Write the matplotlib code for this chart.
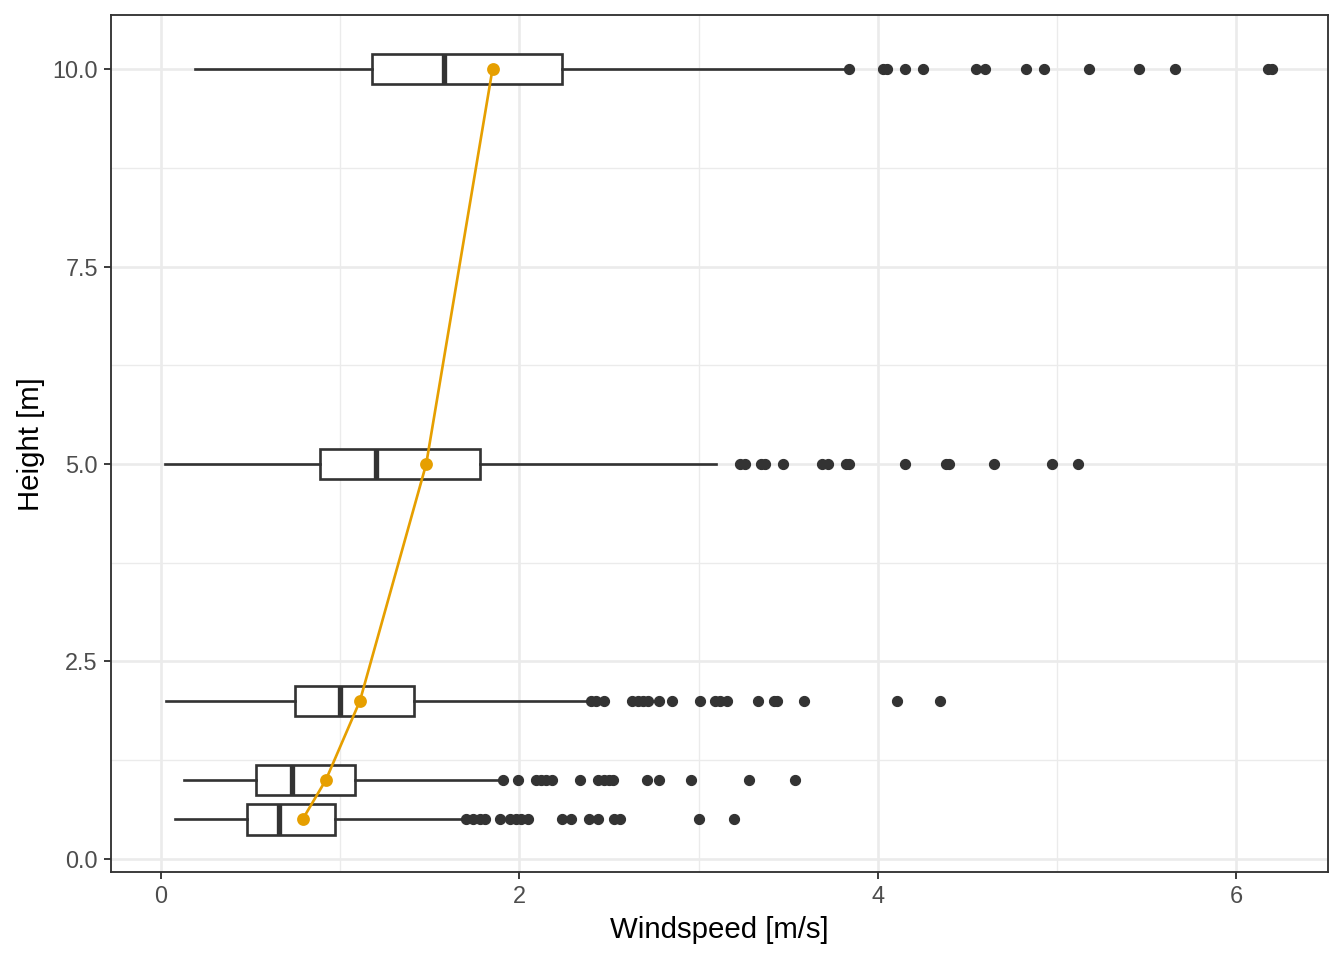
import numpy as np
import matplotlib.pyplot as plt
from matplotlib.ticker import FixedLocator

plt.rcParams['font.family'] = ['Liberation Sans', 'DejaVu Sans']

heights = [0.5, 1, 2, 5, 10]
whislo = [0.08, 0.13, 0.03, 0.02, 0.19]
q1 = [0.48, 0.53, 0.75, 0.89, 1.18]
med = [0.66, 0.73, 1.00, 1.20, 1.58]
q3 = [0.97, 1.08, 1.41, 1.78, 2.24]
whishi = [1.68, 1.88, 2.38, 3.10, 3.83]
means = [0.79, 0.92, 1.11, 1.48, 1.85]

out_05 = [1.70, 1.74, 1.78, 1.81, 1.89, 1.95, 1.98, 2.01, 2.05, 2.24, 2.29,
          2.39, 2.44, 2.53, 2.56, 3.00, 3.20]
out_1 = [1.91, 1.99, 2.09, 2.12, 2.15, 2.18, 2.34, 2.44, 2.47, 2.50, 2.52,
         2.71, 2.78, 2.96, 3.28, 3.54]
out_2 = [2.40, 2.43, 2.47, 2.63, 2.66, 2.69, 2.72, 2.78, 2.85, 3.01, 3.09,
         3.12, 3.16, 3.33, 3.42, 3.44, 3.59, 4.11, 4.35]
out_5 = [3.23, 3.26, 3.35, 3.37, 3.47, 3.69, 3.72, 3.82, 3.84, 4.15, 4.38,
         4.40, 4.65, 4.97, 5.12]
out_10 = [3.84, 4.03, 4.05, 4.15, 4.25, 4.55, 4.60, 4.83, 4.93, 5.18, 5.46,
          5.66, 6.18, 6.20]
outliers = [out_05, out_1, out_2, out_5, out_10]

x_ticks = [0, 2, 4, 6]
x_labels = ['0', '2', '4', '6']
y_ticks = [0, 2.5, 5, 7.5, 10]
y_labels = ['0.0', '2.5', '5.0', '7.5', '10.0']

stats = []
for i in range(len(heights)):
    stats.append(dict(whislo=whislo[i], q1=q1[i], med=med[i], q3=q3[i],
                      whishi=whishi[i], fliers=outliers[i]))

dark = '#333333'
fig = plt.figure(figsize=(7, 5), dpi=192)
ax = fig.add_axes([0.0826, 0.0917, 0.9054, 0.8923])

ax.bxp(stats, positions=heights, widths=0.39, orientation='horizontal',
       showcaps=False, patch_artist=True, manage_ticks=False,
       boxprops=dict(facecolor='white', edgecolor=dark, linewidth=1.0),
       whiskerprops=dict(color=dark, linewidth=1.0),
       medianprops=dict(color=dark, linewidth=2.0),
       flierprops=dict(marker='o', markerfacecolor=dark, markeredgecolor=dark,
                       markersize=3.8, markeredgewidth=0.4),
       zorder=2)

ax.plot(means, heights, color='#E69F00', linewidth=1.0, marker='o',
        markersize=3.8, zorder=3)

ax.set_xlim(-0.279, 6.512)
ax.set_ylim(-0.165, 10.68)
ax.xaxis.set_major_locator(FixedLocator(x_ticks))
ax.xaxis.set_minor_locator(FixedLocator([1, 3, 5]))
ax.yaxis.set_major_locator(FixedLocator(y_ticks))
ax.yaxis.set_minor_locator(FixedLocator([1.25, 3.75, 6.25, 8.75]))
ax.set_xticklabels(x_labels)
ax.set_yticklabels(y_labels)

ax.set_axisbelow(True)
ax.grid(which='major', color='#EBEBEB', linewidth=1.0)
ax.grid(which='minor', color='#EBEBEB', linewidth=0.5)
ax.tick_params(which='major', length=2.75, width=0.7, color=dark,
               labelsize=8.8, labelcolor='#4D4D4D', pad=2.2)
ax.tick_params(which='minor', length=0)
for s in ax.spines.values():
    s.set_color(dark)
    s.set_linewidth(0.7)

ax.set_xlabel('Windspeed [m/s]', fontsize=11, labelpad=2.75)
ax.set_ylabel('Height [m]', fontsize=11, labelpad=2.75)

fig.savefig('out.png', dpi=192)
